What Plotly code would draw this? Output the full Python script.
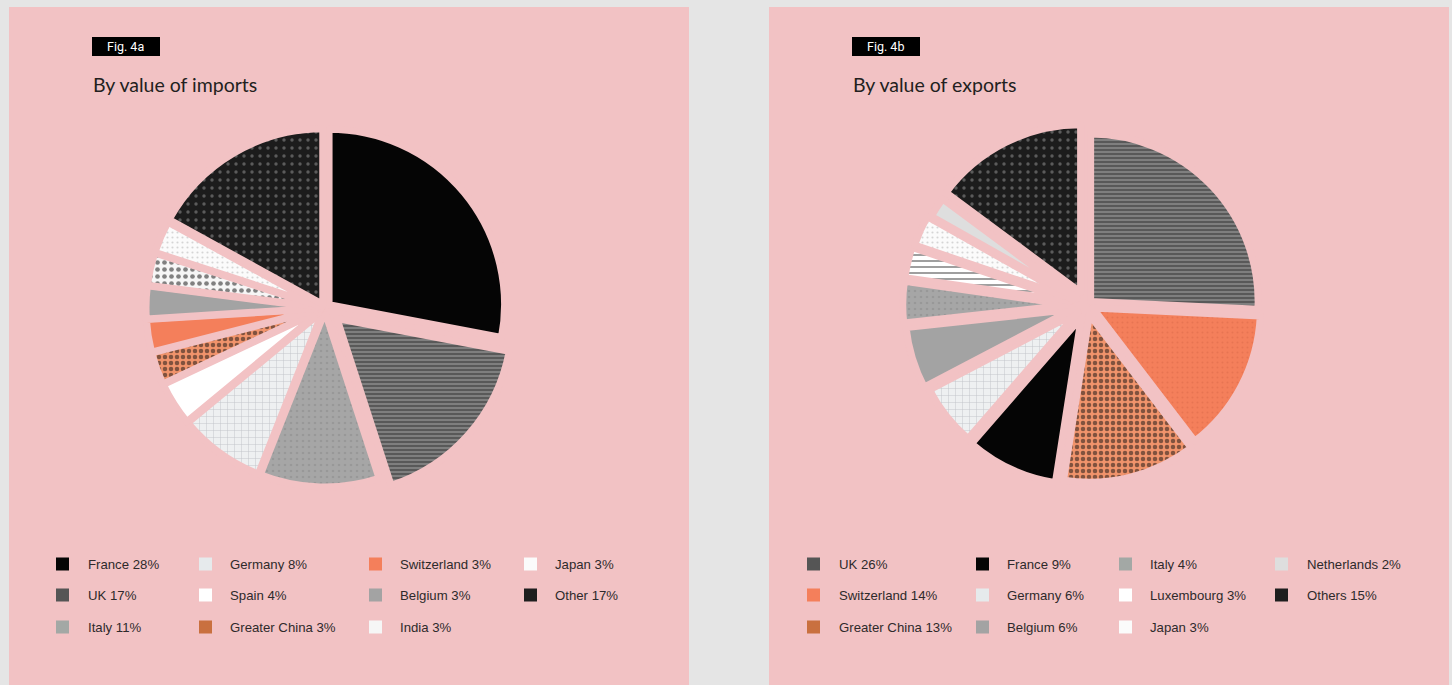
import plotly.graph_objects as go

# ---------------- data ----------------
imp_labels = ["France", "UK", "Italy", "Germany", "Spain", "Greater China",
              "Switzerland", "Belgium", "India", "Japan", "Other"]
imp_values = [28, 17, 11, 8, 4, 3, 3, 3, 3, 3, 17]

exp_labels = ["UK", "Switzerland", "Greater China", "France", "Germany", "Belgium",
              "Italy", "Luxembourg", "Japan", "Netherlands", "Others"]
exp_values = [26, 14, 13, 9, 6, 6, 4, 3, 3, 2, 15]

fig_tags = ["Fig. 4a", "Fig. 4b"]
titles = ["By value of imports", "By value of exports"]

# ---------------- styles ----------------
# label -> (background colour, pattern shape, pattern colour, pattern size, solidity, swatch colour)
STY = {
    "France":        ("#050505", "",  "#050505", 6, 0.3, "#050505"),
    "UK":            ("#838383", "-", "#2f2f2f", 4, 0.55, "#555555"),
    "Italy":         ("#a6a6a6", ".", "#8a8a8a", 6, 0.15, "#a3a8a5"),
    "Germany":       ("#eef0f1", "+", "#8d929a", 7, 0.12, "#e6eaec"),
    "Spain":         ("#ffffff", "",  "#ffffff", 6, 0.3, "#ffffff"),
    "Greater China": ("#f0936b", ".", "#111111", 6, 0.45, "#c9703f"),
    "Switzerland":   ("#f47f5b", "",  "#f47f5b", 6, 0.3, "#f47f5b"),
    "Belgium":       ("#a3a3a3", "",  "#a3a3a3", 6, 0.3, "#a3a3a3"),
    "India":         ("#f6f6f6", ".", "#0a0a0a", 7, 0.35, "#f6f6f6"),
    "Japan":         ("#fbfbfb", ".", "#b0b0b0", 5, 0.15, "#fbfbfb"),
    "Other":         ("#1c1c1c", ".", "#9a9a9a", 8, 0.14, "#1e1e1e"),
    "Others":        ("#1c1c1c", ".", "#9a9a9a", 8, 0.14, "#1e1e1e"),
    "Luxembourg":    ("#ffffff", "-", "#2a2a2a", 6, 0.3, "#ffffff"),
    "Netherlands":   ("#dedede", "",  "#dedede", 6, 0.3, "#dedede"),
}
EXP_STY = dict(STY)
EXP_STY["Switzerland"] = ("#f47f5b", ".", "#d9694a", 5, 0.15, "#f47f5b")

W, H = 1452, 685
PAGE = "#e5e5e5"
PINK = "#f2c2c4"
GAP = 7  # pink gap between slices

panels = [
    dict(labels=imp_labels, values=imp_values, sty=STY, x0=9, x1=689,
         cx=325, cy=308, r=172,
         pull=[0.03, 0.09, 0.02, 0.02, 0.02, 0.02, 0.02, 0.02, 0.02, 0.02, 0.025],
         tagx=92, sw_x=[56, 199, 369, 524], tx_x=[86, 228, 398, 553]),
    dict(labels=exp_labels, values=exp_values, sty=EXP_STY, x0=769, x1=1449,
         cx=1087, cy=305, r=164,
         pull=[0.03, 0.04, 0.06, 0.08, 0.07, 0.09, 0.10, 0.10, 0.09, 0.07, 0.085],
         tagx=852, sw_x=[807, 976, 1119, 1275], tx_x=[837, 1005, 1148, 1305]),
]
rows_y = [564, 595, 627]

def px(x):
    return x / W

def py(y):
    return 1 - y / H

fig = go.Figure()
shapes, annos = [], []

for i, p in enumerate(panels):
    sty = p["sty"]
    shapes.append(dict(type="rect", xref="paper", yref="paper", layer="below",
                       x0=px(p["x0"]), x1=px(p["x1"]), y0=py(H + 5), y1=py(7),
                       fillcolor=PINK, line=dict(width=0)))
    rp = p["r"] + GAP / 2
    half = rp * (1 + max(p["pull"]))
    dom = dict(x=[px(p["cx"] - half), px(p["cx"] + half)],
               y=[py(p["cy"] + half), py(p["cy"] - half)])
    fig.add_trace(go.Pie(
        labels=p["labels"], values=p["values"], sort=False, direction="clockwise",
        rotation=0, domain=dom, pull=p["pull"], textinfo="none", hoverinfo="label+value",
        showlegend=False,
        marker=dict(
            colors=[sty[l][0] for l in p["labels"]],
            line=dict(color=PINK, width=GAP),
            pattern=dict(
                shape=[sty[l][1] for l in p["labels"]],
                fgcolor=[sty[l][2] for l in p["labels"]],
                size=[sty[l][3] for l in p["labels"]],
                solidity=[sty[l][4] for l in p["labels"]],
                fillmode="overlay",
            ),
        ),
    ))
    tx = p["tagx"]
    shapes.append(dict(type="rect", xref="paper", yref="paper",
                       x0=px(tx), x1=px(tx + 68), y0=py(56), y1=py(37),
                       fillcolor="#000000", line=dict(width=0)))
    annos.append(dict(x=px(tx + 33), y=py(46.5), xref="paper", yref="paper",
                      text=fig_tags[i], showarrow=False, xanchor="center", yanchor="middle",
                      font=dict(family="Roboto", size=12.5, color="#ffffff")))
    annos.append(dict(x=px(tx - 1), y=py(84), xref="paper", yref="paper",
                      text=titles[i], showarrow=False, xanchor="left", yanchor="middle",
                      font=dict(family="Lato", size=19.5, color="#231f20")))
    for k, (lab, val) in enumerate(zip(p["labels"], p["values"])):
        col, row = k // 3, k % 3
        sx, ty = p["sw_x"][col], rows_y[row]
        shapes.append(dict(type="rect", xref="paper", yref="paper",
                           x0=px(sx), x1=px(sx + 13), y0=py(ty + 6.5), y1=py(ty - 6.5),
                           fillcolor=sty[lab][5], line=dict(width=0)))
        annos.append(dict(x=px(p["tx_x"][col]), y=py(ty), xref="paper", yref="paper",
                          text=f"{lab} {val}%", showarrow=False, xanchor="left",
                          yanchor="middle",
                          font=dict(family="Liberation Sans", size=13.2, color="#2e2a2b")))

fig.update_layout(
    width=W, height=H, margin=dict(l=0, r=0, t=0, b=0),
    paper_bgcolor=PAGE, plot_bgcolor=PAGE,
    shapes=shapes, annotations=annos,
)

fig.write_html(
    "out.html",
    config={"displayModeBar": False},
    post_script="document.body.style.margin='0';document.body.style.overflow='hidden';"
                "document.body.style.background='" + PAGE + "';",
)
